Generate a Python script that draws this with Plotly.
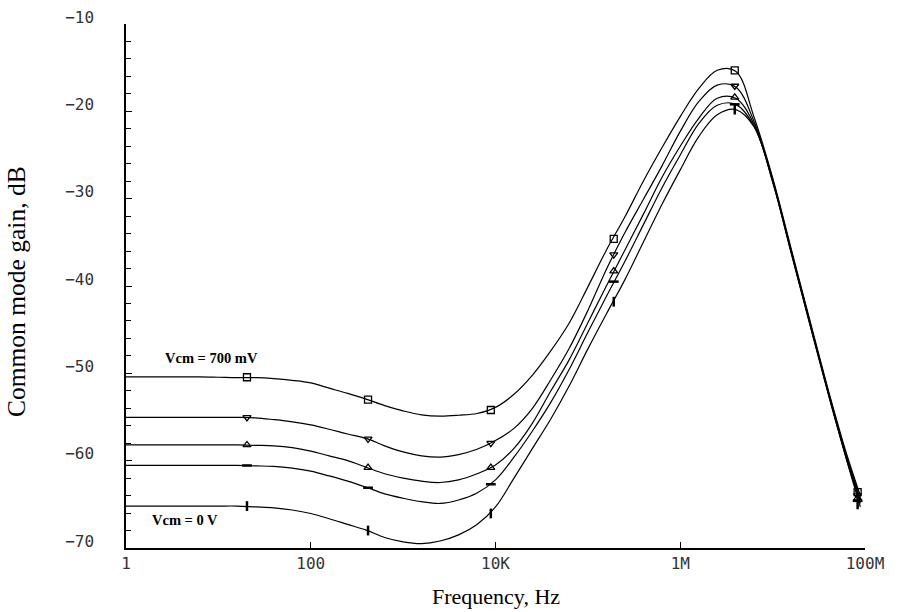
import plotly.graph_objects as go

# Frequencies (Hz) at which the curves were read (0.2-decade steps)
freq = [1, 1.585, 2.512, 3.981, 6.31, 10, 15.85, 25.12, 39.81, 63.1,
        100, 158.5, 251.2, 398.1, 631, 1000, 1585, 2512, 3981, 6310,
        1.0e4, 1.585e4, 2.512e4, 3.981e4, 6.31e4, 1.0e5, 1.585e5, 2.512e5, 3.981e5, 6.31e5,
        1.0e6, 1.585e6, 2.512e6, 3.981e6, 6.31e6, 1.0e7, 1.585e7, 2.512e7, 3.981e7, 6.31e7,
        8.91e7]

# Common mode gain (dB)
gain_700mV = [-50.4, -50.4, -50.4, -50.4, -50.4, -50.45, -50.5, -50.5, -50.6, -50.8,
              -51.1, -51.7, -52.3, -52.95, -53.7, -54.3, -54.75, -54.9, -54.8, -54.6,
              -53.9, -52.4, -50.2, -47.4, -44.2, -40.1, -35.9, -32.1, -28.0, -24.2,
              -20.6, -17.4, -15.3, -15.4, -20.7, -27.6, -35.7, -43.8, -51.8, -59.2,
              -64.0]
gain_v2 = [-55.05, -55.05, -55.05, -55.05, -55.05, -55.05, -55.05, -55.1, -55.3, -55.55,
           -55.9, -56.4, -56.95, -57.45, -58.3, -59.0, -59.45, -59.6, -59.3, -58.7,
           -57.7, -56.3, -54.0, -50.7, -47.1, -42.8, -38.1, -33.9, -30.1, -26.3,
           -22.3, -18.9, -17.0, -17.2, -21.2, -27.8, -35.9, -44.0, -52.0, -59.5,
           -64.3]
gain_v3 = [-58.2, -58.2, -58.2, -58.2, -58.2, -58.2, -58.2, -58.25, -58.3, -58.5,
           -58.9, -59.45, -60.0, -60.75, -61.5, -62.0, -62.35, -62.5, -62.2, -61.5,
           -60.5, -58.6, -55.7, -52.0, -48.4, -44.2, -40.0, -35.9, -31.8, -27.6,
           -24.0, -20.8, -18.5, -18.5, -21.5, -27.9, -36.0, -44.1, -52.1, -59.7,
           -64.6]
gain_v4 = [-60.55, -60.55, -60.55, -60.55, -60.55, -60.55, -60.55, -60.6, -60.65, -60.85,
           -61.2, -61.75, -62.35, -63.05, -63.8, -64.3, -64.7, -64.9, -64.5, -63.7,
           -62.2, -59.6, -56.6, -53.3, -49.5, -45.3, -41.2, -37.2, -33.0, -28.8,
           -25.0, -21.4, -19.3, -19.2, -21.7, -28.0, -36.1, -44.2, -52.2, -59.8,
           -64.9]
gain_0V = [-65.2, -65.2, -65.2, -65.2, -65.2, -65.2, -65.2, -65.3, -65.4, -65.65,
           -66.05, -66.65, -67.3, -67.95, -68.8, -69.3, -69.5, -69.2, -68.5, -67.3,
           -65.3, -62.0, -58.6, -55.2, -51.4, -47.2, -43.2, -39.3, -35.0, -30.7,
           -26.7, -22.9, -20.4, -19.8, -21.8, -28.1, -36.2, -44.3, -52.3, -59.9,
           -65.3]

# Marker positions (Hz) and the values read at each marker
marker_freq = [20.4, 417, 8900, 190500, 3.89e6, 8.32e7]
mk_700mV = [-50.45, -53.0, -54.2, -34.6, -15.3, -63.6]
mk_v2 = [-55.05, -57.5, -58.0, -36.4, -17.1, -64.0]
mk_v3 = [-58.2, -60.8, -60.8, -38.3, -18.4, -64.3]
mk_v4 = [-60.55, -63.1, -62.7, -39.5, -19.2, -64.6]
mk_0V = [-65.2, -68.0, -66.05, -41.8, -19.8, -65.0]

series = [
    ("Vcm = 700 mV", gain_700mV, mk_700mV, "square-open"),
    ("Vcm 2", gain_v2, mk_v2, "triangle-down-open"),
    ("Vcm 3", gain_v3, mk_v3, "triangle-up-open"),
    ("Vcm 4", gain_v4, mk_v4, "line-ew"),
    ("Vcm = 0 V", gain_0V, mk_0V, "line-ns"),
]

x_tickvals = [1, 100, 1e4, 1e6, 1e8]
x_ticktext = ["1", "100", "10K", "1M", "100M"]
y_tickvals = [-10, -20, -30, -40, -50, -60, -70]

fig = go.Figure()
for name, vals, mk, sym in series:
    fig.add_trace(go.Scatter(
        x=freq, y=vals, mode="lines", name=name,
        line=dict(color="black", width=1.2, shape="spline", smoothing=1.0),
        showlegend=False, hoverinfo="skip"))
    fig.add_trace(go.Scatter(
        x=marker_freq, y=mk, mode="markers", name=name,
        marker=dict(symbol=sym, size=7, color="black",
                    line=dict(color="black", width=1.3 if "open" in sym else 2.5)),
        showlegend=False))

fig.add_annotation(x=0.40, y=-48.3, xref="x", yref="y", text="<b>Vcm = 700 mV</b>",
                   showarrow=False, xanchor="left", yanchor="middle",
                   font=dict(family="Liberation Serif", size=14.5, color="black"))
fig.add_annotation(x=0.26, y=-66.8, xref="x", yref="y", text="<b>Vcm = 0 V</b>",
                   showarrow=False, xanchor="left", yanchor="middle",
                   font=dict(family="Liberation Serif", size=14.5, color="black"))

# Axis titles
fig.add_annotation(x=0.5, y=-0.0935, xref="paper", yref="paper", text="Frequency, Hz",
                   showarrow=False, xanchor="center", yanchor="middle",
                   font=dict(family="Liberation Serif", size=22, color="black"))
fig.add_annotation(x=-0.1488, y=0.4885, xref="paper", yref="paper",
                   text="Common mode gain, dB", textangle=-90,
                   showarrow=False, xanchor="center", yanchor="middle",
                   font=dict(family="Liberation Serif", size=25.5, color="black"))

tickfont = dict(family="DejaVu Sans Mono", size=16, color="#333")

fig.update_layout(
    width=904, height=612,
    margin=dict(l=126, r=39, t=24, b=64, autoexpand=False),
    paper_bgcolor="white", plot_bgcolor="white",
    font=dict(family="DejaVu Sans Mono", color="black"),
    xaxis=dict(
        type="log", range=[0, 8], automargin=False,
        tickvals=x_tickvals, ticktext=x_ticktext,
        ticks="inside", ticklen=6, tickwidth=1, tickcolor="black",
        showline=True, linecolor="black", linewidth=1.5,
        showgrid=False, zeroline=False,
        tickfont=tickfont,
    ),
    yaxis=dict(
        range=[-70, -10], automargin=False,
        tickvals=y_tickvals,
        ticks="inside", ticklen=6, tickwidth=1, tickcolor="black",
        minor=dict(dtick=2, ticks="inside", ticklen=5, tickcolor="black", tickwidth=1),
        showline=True, linecolor="black", linewidth=1.5,
        showgrid=False, zeroline=False,
        ticklabelstandoff=27,
        ticklabelshift=-7,
        tickfont=tickfont,
    ),
)

fig.write_html("out.html")
